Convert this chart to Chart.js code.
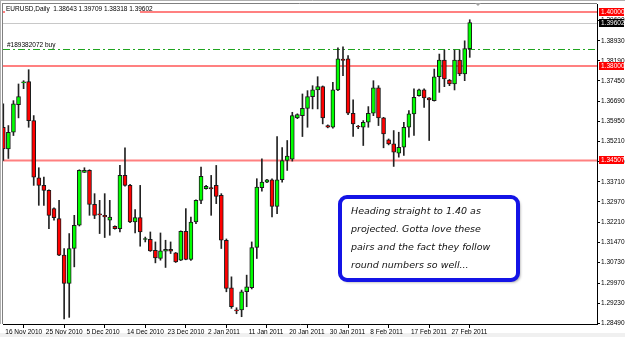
<!DOCTYPE html>
<html>
<head>
<meta charset="utf-8">
<script src="https://cdn.jsdelivr.net/npm/chart.js@4.4.1/dist/chart.umd.min.js"></script>
<style>
  html, body { margin: 0; padding: 0; background: #fff; }
</style>
</head>
<body>
<canvas id="fxChart" width="625" height="337"></canvas>
<script>
// EURUSD daily candles, 16 Nov 2010 .. 3 Mar 2011 (Sunday bars included)
var opens = [
  1.35732, 1.34935, 1.35548, 1.36570, 1.37370, 1.37418, 1.35979, 1.33866, 1.33582, 1.33397,
  1.32722, 1.32353, 1.31000, 1.29956, 1.31247, 1.32106, 1.34065, 1.34135, 1.32881, 1.32500,
  1.32475, 1.32291, 1.32069, 1.31985, 1.33951, 1.33582, 1.32229, 1.32390, 1.31580, 1.31590,
  1.31184, 1.30878, 1.31147, 1.31221, 1.31084, 1.30815, 1.31885, 1.30841, 1.32229, 1.33028,
  1.33460, 1.33500, 1.33582, 1.33213, 1.31553, 1.29794, 1.28950, 1.28971, 1.29646, 1.29794,
  1.31284, 1.33497, 1.33704, 1.33792, 1.32807, 1.33792, 1.34504, 1.34550, 1.36079, 1.36164,
  1.36433, 1.36865, 1.37112, 1.37234, 1.35795, 1.35732, 1.37112, 1.38250, 1.38266, 1.36249,
  1.35760, 1.35732, 1.35917, 1.36249, 1.37186, 1.36079, 1.35267, 1.35120, 1.34773, 1.34994,
  1.35732, 1.36226, 1.36902, 1.37112, 1.36817, 1.36717, 1.37602, 1.38218, 1.37481, 1.37333,
  1.38218, 1.37702, 1.38643
];
var highs = [
  1.36595, 1.35795, 1.36717, 1.37333, 1.37455, 1.37861, 1.36164, 1.34235, 1.33888, 1.33420,
  1.32750, 1.33028, 1.31247, 1.31800, 1.32475, 1.34160, 1.34235, 1.34160, 1.33276, 1.33028,
  1.33276, 1.33028, 1.32090, 1.34320, 1.34972, 1.33620, 1.32685, 1.33582, 1.31670, 1.31859,
  1.31490, 1.31822, 1.31553, 1.31490, 1.31100, 1.31900, 1.32722, 1.32414, 1.33050, 1.34257,
  1.33580, 1.33951, 1.34320, 1.33276, 1.31600, 1.30199, 1.29056, 1.29710, 1.30262, 1.31490,
  1.33829, 1.34567, 1.33810, 1.33829, 1.35389, 1.34980, 1.35242, 1.36286, 1.36230, 1.36964,
  1.37086, 1.37270, 1.37602, 1.37260, 1.35820, 1.37392, 1.38672, 1.38709, 1.38380, 1.36743,
  1.35800, 1.35980, 1.36496, 1.37455, 1.37270, 1.36100, 1.35300, 1.35610, 1.35548, 1.35917,
  1.36348, 1.37149, 1.37140, 1.37150, 1.36830, 1.37886, 1.38440, 1.38587, 1.37500, 1.38587,
  1.38587, 1.38930, 1.39709
];
var lows = [
  1.34504, 1.34578, 1.35426, 1.36079, 1.37160, 1.35732, 1.33582, 1.32844, 1.32844, 1.31985,
  1.32291, 1.30980, 1.28646, 1.28700, 1.30568, 1.32080, 1.34060, 1.32475, 1.32353, 1.31800,
  1.31653, 1.31737, 1.31960, 1.31859, 1.33550, 1.32200, 1.31822, 1.31332, 1.31490, 1.31140,
  1.30716, 1.30815, 1.30546, 1.31062, 1.30730, 1.30800, 1.30830, 1.30810, 1.32170, 1.32907,
  1.33440, 1.32475, 1.32907, 1.31247, 1.29646, 1.29033, 1.28834, 1.28724, 1.29093, 1.29750,
  1.30878, 1.33372, 1.33680, 1.32414, 1.32538, 1.33700, 1.34135, 1.34480, 1.36050, 1.35389,
  1.35732, 1.36411, 1.36411, 1.35857, 1.35710, 1.35700, 1.37090, 1.37639, 1.36200, 1.35389,
  1.35680, 1.35057, 1.35732, 1.36160, 1.35795, 1.34972, 1.35080, 1.34283, 1.34626, 1.34688,
  1.35363, 1.35426, 1.36880, 1.36470, 1.35242, 1.36700, 1.37023, 1.37234, 1.37270, 1.37112,
  1.37639, 1.37455, 1.38318
];
var closes = [
  1.34935, 1.35548, 1.36595, 1.36865, 1.37410, 1.35979, 1.33888, 1.33582, 1.33397, 1.32475,
  1.32390, 1.31000, 1.29956, 1.31247, 1.32106, 1.34135, 1.34135, 1.32881, 1.32475, 1.32490,
  1.32414, 1.32414, 1.31985, 1.33951, 1.33582, 1.32229, 1.32390, 1.31859, 1.31590, 1.31158,
  1.30900, 1.31158, 1.31221, 1.31147, 1.30752, 1.31885, 1.30841, 1.32229, 1.33028, 1.33914,
  1.33545, 1.33450, 1.33176, 1.31553, 1.29771, 1.29093, 1.28940, 1.29646, 1.29830, 1.31284,
  1.33519, 1.33704, 1.33792, 1.32807, 1.33792, 1.34504, 1.34663, 1.36164, 1.36201, 1.36433,
  1.36865, 1.37112, 1.37234, 1.36079, 1.35732, 1.37112, 1.38266, 1.38200, 1.36249, 1.35857,
  1.35740, 1.35917, 1.36249, 1.37186, 1.36079, 1.35489, 1.35120, 1.34810, 1.34994, 1.35732,
  1.36226, 1.36839, 1.37112, 1.36817, 1.36743, 1.37602, 1.38218, 1.37518, 1.37333, 1.38218,
  1.37702, 1.38646, 1.39602
];

var tickDates = ['16 Nov 2010', '25 Nov 2010', '5 Dec 2010', '14 Dec 2010', '23 Dec 2010', '2 Jan 2011',
                 '11 Jan 2011', '20 Jan 2011', '30 Jan 2011', '8 Feb 2011', '17 Feb 2011', '27 Feb 2011'];
var barsPerTick = 8;
var priceTicks = [1.28490, 1.29230, 1.29970, 1.30730, 1.31470, 1.32210, 1.32970, 1.33710,
                  1.34450, 1.35210, 1.35950, 1.36690, 1.37450, 1.38190, 1.38930, 1.39690];
var levels = [1.40000, 1.38000, 1.34507];
var lastPrice = 1.39602;
var orderPrice = 1.38643;
var orderText = '#189382072 buy';
var header = 'EURUSD,Daily  1.38643 1.39709 1.38318 1.39602';
var noteLines = ['Heading straight to 1.40 as', 'projected. Gotta love these',
                 'pairs and the fact they follow', 'round numbers so well...'];

var wicks = [], bodies = [], bodyColors = [];
for (var i = 0; i < opens.length; i++) {
  wicks.push({ x: i, y: [lows[i], highs[i]] });
  bodies.push({ x: i, y: [opens[i], closes[i]] });
  bodyColors.push(closes[i] >= opens[i] ? '#00ff00' : '#ff0000');
}

var smallFont = '6.5px "Liberation Sans", Arial, sans-serif';

var mt4Plugin = {
  id: 'mt4',
  beforeDraw: function (chart) {
    var c = chart.ctx;
    c.save();
    c.fillStyle = '#ffffff';
    c.fillRect(0, 0, chart.width, chart.height);
    c.fillStyle = '#f0f0f0';
    c.fillRect(0, 333, chart.width, 4);
    c.restore();
  },
  beforeDatasetsDraw: function (chart) {
    var c = chart.ctx, a = chart.chartArea, y = chart.scales.y;
    c.save();
    // frame
    c.strokeStyle = '#b0b0b0';
    c.lineWidth = 1;
    c.beginPath();
    c.moveTo(0.5, 0); c.lineTo(0.5, a.bottom);
    c.moveTo(0, 0.5); c.lineTo(chart.width, 0.5);
    c.stroke();
    c.strokeStyle = '#808080';
    c.beginPath();
    c.moveTo(2.5, 3); c.lineTo(2.5, a.bottom);
    c.moveTo(2, 3.5); c.lineTo(a.right, 3.5);
    c.stroke();
    // chart shift marker
    c.fillStyle = '#a0a0a0';
    c.beginPath();
    c.moveTo(475, 3); c.lineTo(481, 3); c.lineTo(478, 6); c.closePath();
    c.fill();

    // last price line
    var py = Math.round(y.getPixelForValue(lastPrice)) + 0.5;
    c.strokeStyle = '#c8c8c8';
    c.beginPath(); c.moveTo(a.left, py); c.lineTo(a.right, py); c.stroke();

    // order line
    var oy = Math.round(y.getPixelForValue(orderPrice)) + 0.5;
    c.strokeStyle = '#1fa51f';
    c.setLineDash([7, 3, 2, 3]);
    c.beginPath(); c.moveTo(a.left, oy); c.lineTo(a.right, oy); c.stroke();
    c.setLineDash([]);
    c.fillStyle = '#000';
    c.font = smallFont;
    c.textBaseline = 'bottom';
    c.fillText(orderText, 7, oy - 1);

    // horizontal levels
    c.strokeStyle = '#ff8080';
    c.lineWidth = 2;
    levels.forEach(function (v) {
      var ly = y.getPixelForValue(v);
      c.beginPath(); c.moveTo(a.left, ly); c.lineTo(a.right, ly); c.stroke();
    });

    // header
    c.fillStyle = '#ffffff';
    c.fillRect(5, 5, 135, 9);
    c.fillStyle = '#000';
    c.textBaseline = 'middle';
    c.fillText(header, 6, 9.5);
    c.restore();
  },
  afterDraw: function (chart) {
    var c = chart.ctx, y = chart.scales.y;
    c.save();
    c.font = smallFont;
    c.textBaseline = 'middle';
    function tag(v, bg) {
      var ty = Math.round(y.getPixelForValue(v));
      c.fillStyle = bg;
      c.fillRect(599, ty - 4, 25, 8);
      c.fillStyle = '#ffffff';
      c.fillText(v.toFixed(5), 601, ty + 0.5);
    }
    tag(levels[0], '#ff0000');
    tag(lastPrice, '#000000');
    tag(levels[1], '#ff0000');
    tag(levels[2], '#ff0000');

    // note box
    var bx = 340, by = 197, bw = 178, bh = 83, r = 7;
    c.shadowColor = 'rgba(0,0,0,0.45)';
    c.shadowOffsetX = 2; c.shadowOffsetY = 2; c.shadowBlur = 3;
    c.beginPath();
    c.roundRect(bx, by, bw, bh, r);
    c.fillStyle = '#ffffff';
    c.fill();
    c.shadowColor = 'transparent';
    c.lineWidth = 4;
    c.strokeStyle = '#1414e6';
    c.stroke();
    c.fillStyle = '#111';
    c.font = 'italic 9.5px "DejaVu Sans", sans-serif';
    c.textBaseline = 'middle';
    noteLines.forEach(function (t, k) {
      c.fillText(t, 351, 212 + k * 18);
    });
    c.restore();
  }
};

var ctx = document.getElementById('fxChart').getContext('2d');
var fxChart = new Chart(ctx, {
  type: 'bar',
  data: {
    datasets: [{
      label: 'Body',
      data: bodies,
      backgroundColor: bodyColors,
      borderColor: '#1a1a1a',
      borderWidth: 1,
      borderSkipped: false,
      barThickness: 4,
      minBarLength: 1,
      grouped: false,
      order: 0
    }, {
      label: 'Wick',
      data: wicks,
      backgroundColor: '#222222',
      borderWidth: 0,
      barThickness: 1,
      grouped: false,
      order: 1
    }]
  },
  options: {
    responsive: false,
    animation: false,
    devicePixelRatio: 1,
    layout: { padding: { left: 3, top: 4, right: 0, bottom: 0 } },
    plugins: { legend: { display: false }, tooltip: { enabled: false } },
    scales: {
      x: {
        type: 'linear',
        min: -0.06,
        max: 117.1,
        offset: false,
        grid: { drawOnChartArea: false, drawTicks: true, tickLength: 4, color: '#000' },
        border: { display: true, color: '#000' },
        ticks: {
          autoSkip: false,
          maxRotation: 0,
          align: 'start',
          labelOffset: 2,
          padding: 0,
          color: '#000',
          font: { family: 'Liberation Sans', size: 6.5 },
          callback: function (v, i) { return tickDates[i]; }
        },
        afterBuildTicks: function (s) {
          s.ticks = tickDates.map(function (d, k) { return { value: k * barsPerTick }; });
        },
        afterFit: function (s) { s.height = 13; }
      },
      y: {
        position: 'right',
        min: 1.284545,
        max: 1.402582,
        grid: { drawOnChartArea: false, tickLength: 3, color: '#000' },
        border: { display: true, color: '#000' },
        ticks: {
          autoSkip: false,
          padding: 1,
          color: '#000',
          font: { family: 'Liberation Sans', size: 6.5 },
          callback: function (v) { return v.toFixed(5); }
        },
        afterBuildTicks: function (s) {
          s.ticks = priceTicks.map(function (v) { return { value: v }; });
        },
        afterFit: function (s) { s.width = 28; }
      }
    }
  },
  plugins: [mt4Plugin]
});
</script>
</body>
</html>
